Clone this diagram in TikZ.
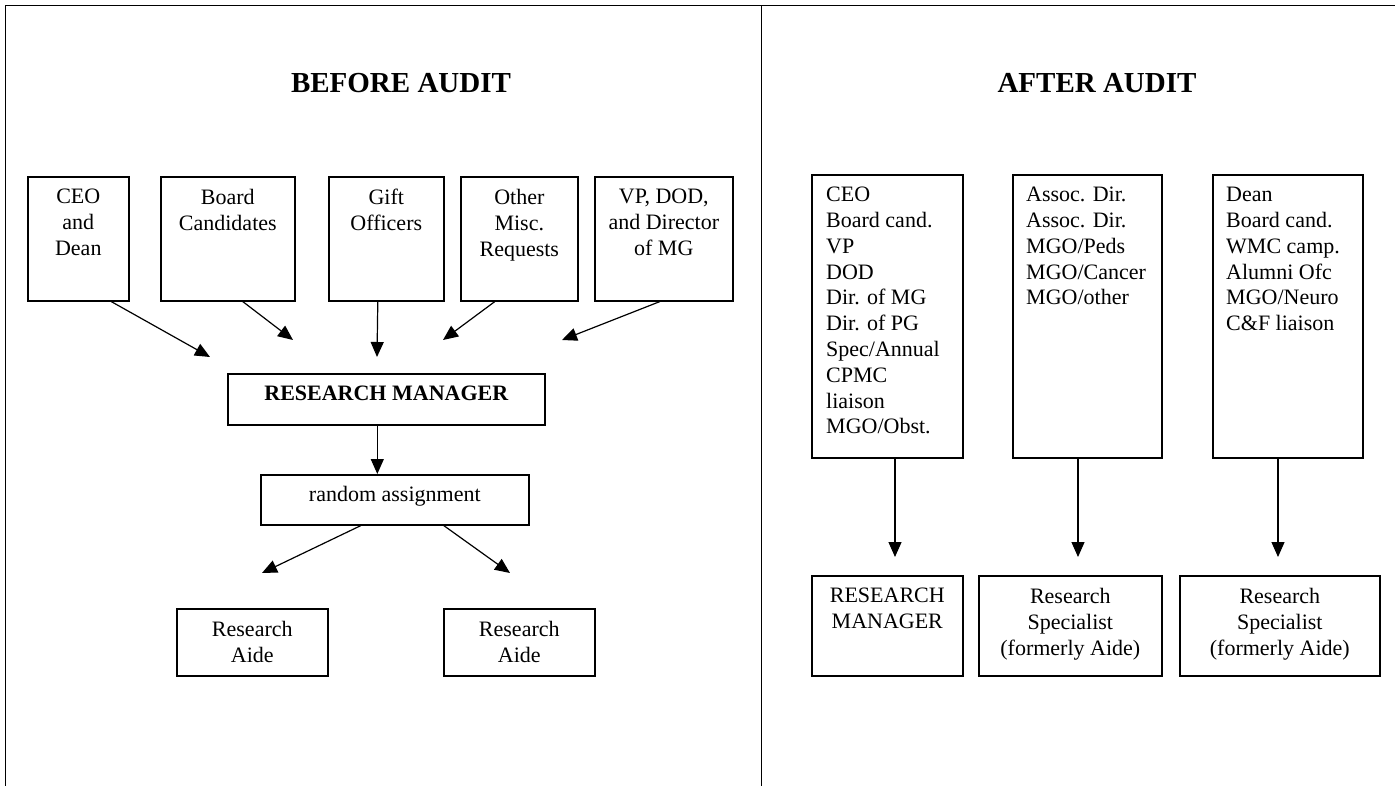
\documentclass[tikz,border=0pt]{standalone}
\usepackage{fontspec}
\setmainfont{Liberation Serif}
\usetikzlibrary{positioning, arrows.meta}

\begin{document}
\begin{tikzpicture}[
    x=1pt, y=-1pt,
    every node/.style={font=\fontsize{22}{25.8}\selectfont},
    box/.style={draw, line width=1.6pt, anchor=north west, inner sep=0pt},
    txt/.style={inner sep=0pt, align=center},
    lst/.style={inner sep=0pt, align=left},
    arr/.style={line width=1.2pt, -{Triangle[length=15pt,width=13pt]}},
    ttl/.style={font=\fontsize{29}{33}\selectfont\bfseries}
  ]
  \useasboundingbox (0,0) rectangle (1395,786);
  % frame
  \draw[line width=1pt] (5,786) -- (5,6) -- (1395,6);
  \draw[line width=1pt] (761,6) -- (761,786);

  % before audit
  \node[ttl] (before) at (401,83) {BEFORE AUDIT};
  \node[box, minimum width=101, minimum height=124] (ceo) at (27,176) {};
  \node[box, minimum width=134, minimum height=124] (board) at (160,176) {};
  \node[box, minimum width=115, minimum height=124] (gift) at (328,176) {};
  \node[box, minimum width=117, minimum height=124] (misc) at (460,176) {};
  \node[box, minimum width=138, minimum height=124] (vp) at (594,176) {};
  \node[txt, below=13pt of ceo.north] (ceo-t) {CEO\\and\\Dean};
  \node[txt, below=13pt of board.north] (board-t) {Board\\Candidates};
  \node[txt, below=13pt of gift.north] (gift-t) {Gift\\Officers};
  \node[txt, below=13pt of misc.north] (misc-t) {Other\\Misc.\\Requests};
  \node[txt, below=13pt of vp.north] (vp-t) {VP, DOD,\\and Director\\of MG};

  \node[box, minimum width=317, minimum height=51] (rm) at (227,373) {};
  \node[txt, below=13pt of rm.north] (rm-t) {\bfseries RESEARCH MANAGER};
  \node[box, minimum width=268, minimum height=50] (ra) at (260,474) {};
  \node[txt, below=12pt of ra.north] (ra-t) {random assignment};
  \node[box, minimum width=151, minimum height=67] (aide1) at (176,608) {};
  \node[box, minimum width=151, minimum height=67] (aide2) at (443,608) {};
  \node[txt, below=13pt of aide1.north] (aide1-t) {Research\\Aide};
  \node[txt, below=13pt of aide2.north] (aide2-t) {Research\\Aide};

  \coordinate (t1) at (210,357);
  \coordinate (t2) at (293,340);
  \coordinate (t3) at (377,357);
  \coordinate (t4) at (443,340);
  \coordinate (t5) at (562,340);
  \draw[arr] ([xshift=33]ceo.south) -- (t1);
  \draw[arr] ([xshift=15]board.south) -- (t2);
  \draw[arr] ([xshift=-8.5]gift.south) -- (t3);
  \draw[arr] ([xshift=-24.5]misc.south) -- (t4);
  \draw[arr] ([xshift=-4]vp.south) -- (t5);
  \draw[arr] ([xshift=-9]rm.south) -- ([xshift=-9]rm.south |- ra.north);
  \coordinate (t6) at (262,573);
  \coordinate (t7) at (510,573);
  \draw[arr] ([xshift=-34]ra.south) -- (t6);
  \draw[arr] ([xshift=49]ra.south) -- (t7);

  % after audit
  \node[ttl] (after) at (1097,83) {AFTER AUDIT};
  \node[box, minimum width=151, minimum height=283] (grp1) at (811,174) {};
  \node[box, minimum width=149, minimum height=283] (grp2) at (1012,174) {};
  \node[box, minimum width=150, minimum height=283] (grp3) at (1212,174) {};
  \node[lst, below right=13pt and 15pt of grp1.north west] (grp1-t)
    {CEO\\Board cand.\\VP\\DOD\\Dir. of MG\\Dir. of PG\\Spec/Annual\\CPMC\\liaison\\MGO/Obst.};
  \node[lst, below right=13pt and 14pt of grp2.north west] (grp2-t)
    {Assoc. Dir.\\Assoc. Dir.\\MGO/Peds\\MGO/Cancer\\MGO/other};
  \node[lst, below right=13pt and 14pt of grp3.north west] (grp3-t)
    {Dean\\Board cand.\\WMC camp.\\Alumni Ofc\\MGO/Neuro\\C\&F liaison};

  \node[box, minimum width=151, minimum height=100] (mgr) at (811,575) {};
  \node[box, minimum width=183, minimum height=100] (spec1) at (978,575) {};
  \node[box, minimum width=200, minimum height=100] (spec2) at (1179,575) {};
  \node[txt, below=13pt of mgr.north] (mgr-t) {RESEARCH\\MANAGER};
  \node[txt, below=13pt of spec1.north] (spec1-t) {Research\\Specialist\\(formerly Aide)};
  \node[txt, below=13pt of spec2.north] (spec2-t) {Research\\Specialist\\(formerly Aide)};

  \coordinate (e1) at (895,557);
  \coordinate (e2) at (1078,557);
  \coordinate (e3) at (1278,557);
  \draw[arr] (grp1.south -| e1) -- (e1);
  \draw[arr] (grp2.south -| e2) -- (e2);
  \draw[arr] (grp3.south -| e3) -- (e3);
\end{tikzpicture}
\end{document}
